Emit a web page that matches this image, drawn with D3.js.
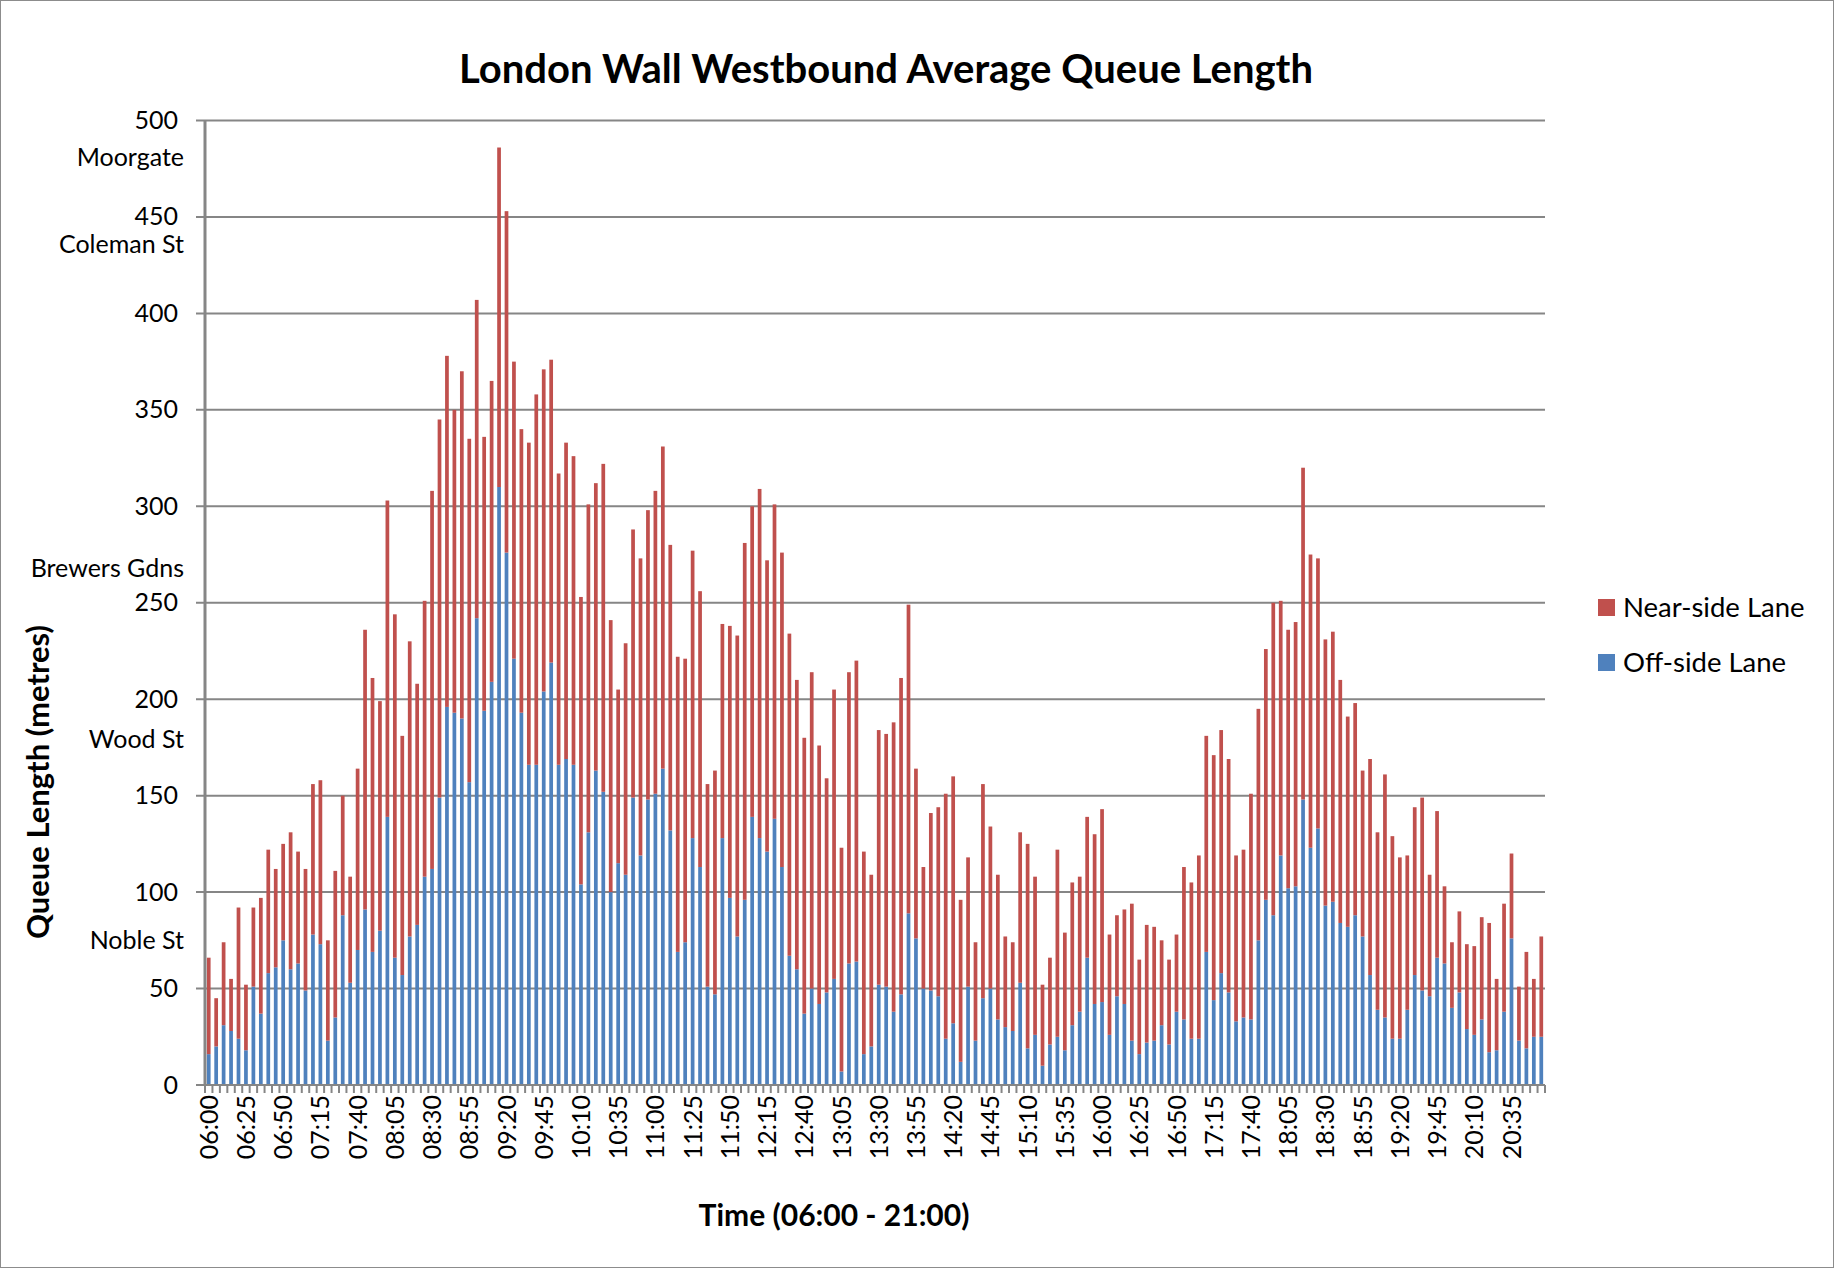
<!DOCTYPE html>
<html>
<head>
<meta charset="utf-8">
<script src="https://cdn.jsdelivr.net/npm/d3@7"></script>
<style>
  body { margin: 0; background: #fff; }
  svg { display: block; font-family: Lato, "Open Sans", sans-serif; }
</style>
</head>
<body>
<svg id="chart" width="1835" height="1269"></svg>
<script>
// Off-side lane queue (blue part of each bar), one value per 5 minutes from 06:00
const offSide = [
  16,20,31,28,24,18,51,37,58,61,75,60,63,49,78,73,23,35,
  88,53,70,91,69,80,139,66,57,77,83,108,112,149,196,193,190,157,
  242,194,209,310,276,221,193,166,166,204,219,166,169,166,104,131,163,152,
  100,115,109,149,119,148,151,164,132,69,74,128,113,51,47,128,97,77,
  96,139,128,121,138,113,67,60,37,50,42,48,55,7,63,64,16,20,
  52,51,38,47,89,76,50,49,46,24,32,12,51,23,45,50,34,30,
  28,53,19,26,10,21,25,18,31,38,66,42,43,26,46,42,23,16,22,
  23,31,21,38,34,24,24,69,44,58,48,33,35,34,75,96,88,119,
  102,103,148,123,133,93,95,84,82,88,77,57,39,35,24,24,39,57,
  49,46,66,63,40,48,29,26,34,17,18,38,76,23,19,25,25
];

// Total queue (top of the red near-side part)
const totalQueue = [
  66,45,74,55,92,52,92,97,122,112,125,131,121,112,156,158,75,111,
  150,108,164,236,211,199,303,244,181,230,208,251,308,345,378,350,370,335,
  407,336,365,486,453,375,340,333,358,371,376,317,333,326,253,301,312,322,
  241,205,229,288,273,298,308,331,280,222,221,277,256,156,163,239,238,233,
  281,300,309,272,301,276,234,210,180,214,176,159,205,123,214,220,121,109,
  184,182,188,211,249,164,113,141,144,151,160,96,118,74,156,134,109,77,
  74,131,125,108,52,66,122,79,105,108,139,130,143,78,88,91,94,65,83,
  82,75,65,78,113,105,119,181,171,184,169,119,122,151,195,226,250,251,
  236,240,320,275,273,231,235,210,191,198,163,169,131,161,129,118,119,144,
  149,109,142,103,74,90,73,72,87,84,55,94,120,51,69,55,77
];

const tickLabels = [
  "06:00","06:25","06:50","07:15","07:40","08:05","08:30","08:55","09:20",
  "09:45","10:10","10:35","11:00","11:25","11:50","12:15","12:40","13:05",
  "13:30","13:55","14:20","14:45","15:10","15:35","16:00","16:25","16:50",
  "17:15","17:40","18:05","18:30","18:55","19:20","19:45","20:10","20:35"
];

const yTicks = [0, 50, 100, 150, 200, 250, 300, 350, 400, 450, 500];

// street names written beside the value axis, at their distance along the queue
const landmarks = [
  { name: "Moorgate", at: 481 },
  { name: "Coleman St", at: 436 },
  { name: "Brewers Gdns", at: 268 },
  { name: "Wood St", at: 179 },
  { name: "Noble St", at: 75 }
];

const seriesNames = ["Near-side Lane", "Off-side Lane"];
const seriesColors = ["#C0504D", "#4F81BD"];

// 5 minute slots, 06:00 - 20:55
const fmt = d3.timeFormat("%H:%M");
const slots = d3.timeMinute.every(5)
  .range(new Date(2013, 0, 1, 6, 0), new Date(2013, 0, 1, 21, 0))
  .map(fmt);

const svg = d3.select("#chart");
const W = 1835, H = 1269;
const plot = { left: 205, right: 1545, top: 120.5, bottom: 1085 };
const gridColor = "#868686";

// outer frame
svg.append("rect")
  .attr("x", 0.5).attr("y", 0.5)
  .attr("width", W - 2).attr("height", H - 2)
  .attr("fill", "#fff")
  .attr("stroke", "#8c8c8c");

const x = d3.scaleBand()
  .domain(slots)
  .range([plot.left, plot.right])
  .paddingInner(0.5)
  .paddingOuter(0.25);

const y = d3.scaleLinear()
  .domain([0, 500])
  .range([plot.bottom, plot.top]);

// gridlines (they also stick out left of the axis like tick marks)
svg.append("g")
  .selectAll("line")
  .data(yTicks)
  .join("line")
  .attr("x1", plot.left - 9)
  .attr("x2", plot.right)
  .attr("y1", d => y(d))
  .attr("y2", d => y(d))
  .attr("stroke", gridColor)
  .attr("stroke-width", 2);

// y tick labels
const yAxis = svg.append("g")
  .attr("transform", `translate(${plot.left},0)`)
  .call(d3.axisLeft(y).tickValues(yTicks).tickSize(0).tickPadding(27));
yAxis.select(".domain").remove();
yAxis.selectAll("text")
  .style("font-size", "25px")
  .style("font-family", "Lato, sans-serif")
  .attr("fill", "#000");

// bars: off-side lane at the bottom, near-side lane stacked on top
const bars = svg.append("g");
bars.selectAll("rect.off")
  .data(slots)
  .join("rect")
  .attr("class", "off")
  .attr("x", d => x(d))
  .attr("width", x.bandwidth())
  .attr("y", (d, i) => y(offSide[i]))
  .attr("height", (d, i) => y(0) - y(offSide[i]))
  .attr("fill", seriesColors[1]);

bars.selectAll("rect.near")
  .data(slots)
  .join("rect")
  .attr("class", "near")
  .attr("x", d => x(d))
  .attr("width", x.bandwidth())
  .attr("y", (d, i) => y(totalQueue[i]))
  .attr("height", (d, i) => y(offSide[i]) - y(totalQueue[i]))
  .attr("fill", seriesColors[0]);

// axis lines
svg.append("line")
  .attr("x1", plot.left).attr("x2", plot.left)
  .attr("y1", plot.top).attr("y2", plot.bottom + 1)
  .attr("stroke", gridColor)
  .attr("stroke-width", 3);

svg.append("line")
  .attr("x1", plot.left).attr("x2", plot.right)
  .attr("y1", plot.bottom).attr("y2", plot.bottom)
  .attr("stroke", gridColor)
  .attr("stroke-width", 2);

// category tick marks sit between the bars
const gap = (x.step() - x.bandwidth()) / 2;
const bounds = slots.map(d => x(d) - gap).concat([plot.right]);
svg.append("g")
  .selectAll("line")
  .data(bounds)
  .join("line")
  .attr("x1", d => d).attr("x2", d => d)
  .attr("y1", plot.bottom).attr("y2", plot.bottom + 8)
  .attr("stroke", gridColor)
  .attr("stroke-width", 2);

// x tick labels, rotated
const xAxis = svg.append("g")
  .attr("transform", `translate(0,${plot.bottom})`)
  .call(d3.axisBottom(x).tickValues(tickLabels).tickSize(0));
xAxis.select(".domain").remove();
xAxis.selectAll("text")
  .attr("transform", "rotate(-90)")
  .attr("x", -10)
  .attr("y", 0)
  .attr("dy", "0.36em")
  .attr("text-anchor", "end")
  .attr("fill", "#000")
  .style("font-size", "25px")
  .style("font-family", "Lato, sans-serif");

// street names
svg.append("g")
  .selectAll("text")
  .data(landmarks)
  .join("text")
  .attr("x", 184)
  .attr("y", d => y(d.at))
  .attr("dy", "0.35em")
  .attr("text-anchor", "end")
  .style("font-size", "25px")
  .text(d => d.name);

// title
svg.append("text")
  .attr("x", 886)
  .attr("y", 83)
  .attr("text-anchor", "middle")
  .style("font-size", "40px")
  .style("font-weight", "bold")
  .text("London Wall Westbound Average Queue Length");

// axis titles
svg.append("text")
  .attr("transform", "translate(49,782) rotate(-90)")
  .attr("text-anchor", "middle")
  .style("font-size", "31px")
  .style("font-weight", "bold")
  .text("Queue Length (metres)");

svg.append("text")
  .attr("x", 834)
  .attr("y", 1226)
  .attr("text-anchor", "middle")
  .style("font-size", "30px")
  .style("font-weight", "bold")
  .text("Time (06:00 - 21:00)");

// legend
const legend = svg.append("g")
  .selectAll("g")
  .data(seriesNames)
  .join("g")
  .attr("transform", (d, i) => `translate(1598,${599 + i * 55})`);

legend.append("rect")
  .attr("width", 17)
  .attr("height", 17)
  .attr("fill", (d, i) => seriesColors[i]);

legend.append("text")
  .attr("x", 25)
  .attr("y", 8.5)
  .attr("dy", "0.36em")
  .style("font-size", "27.5px")
  .text(d => d);
</script>
</body>
</html>
